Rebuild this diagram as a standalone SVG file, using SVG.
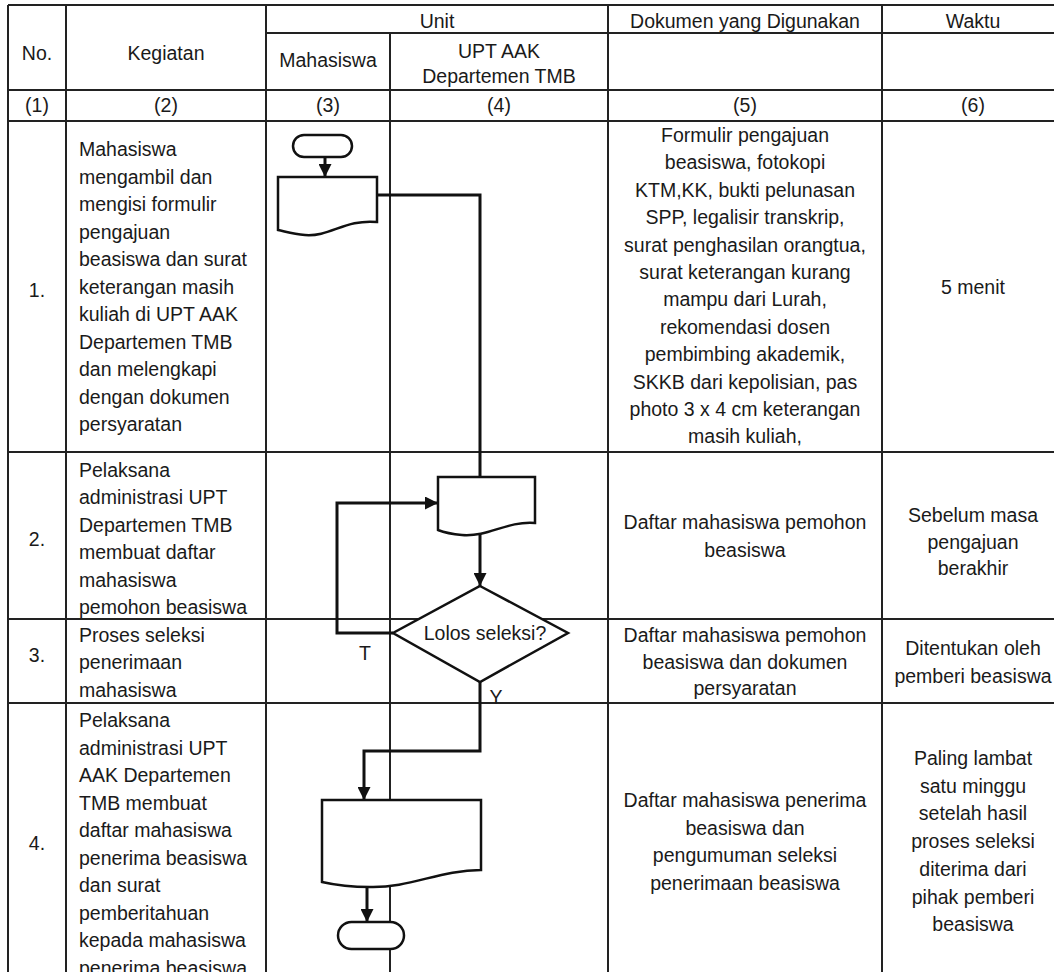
<svg xmlns="http://www.w3.org/2000/svg" width="1054" height="972" viewBox="0 0 1054 972">
<style>
text{font-family:"Liberation Sans",Arial,sans-serif;font-size:19.5px;fill:#1a1a1a}
.c{text-anchor:middle}
.grid line{stroke:#222;stroke-width:2}
.shape{fill:#fff;stroke:#111;stroke-width:2.5}
.conn path{fill:none;stroke:#111;stroke-width:3}
</style>
<defs>
<marker id="arr" viewBox="0 0 10 10" refX="10" refY="5" markerWidth="15" markerHeight="13" markerUnits="userSpaceOnUse" orient="auto">
<path d="M0,0 L10,5 L0,10 z" fill="#111"/>
</marker>
</defs>
<rect width="1054" height="972" fill="#fff"/>
<g class="grid" id="table">
<line x1="8" y1="5" x2="1054" y2="5"/>
<line x1="266" y1="33" x2="1054" y2="33"/>
<line x1="8" y1="90" x2="1054" y2="90"/>
<line x1="8" y1="121" x2="1054" y2="121"/>
<line x1="8" y1="452" x2="1054" y2="452"/>
<line x1="8" y1="619" x2="1054" y2="619"/>
<line x1="8" y1="703" x2="1054" y2="703"/>
<line x1="8" y1="5" x2="8" y2="972"/>
<line x1="66" y1="5" x2="66" y2="972"/>
<line x1="266" y1="5" x2="266" y2="972"/>
<line x1="390" y1="33" x2="390" y2="972"/>
<line x1="608" y1="5" x2="608" y2="972"/>
<line x1="882" y1="5" x2="882" y2="972"/>
</g>
<g id="header">
<text class="c" x="37" y="60">No.</text>
<text class="c" x="166" y="60">Kegiatan</text>
<text class="c" x="437" y="28">Unit</text>
<text class="c" x="745" y="28">Dokumen yang Digunakan</text>
<text class="c" x="973" y="28">Waktu</text>
<text class="c" x="328" y="67">Mahasiswa</text>
<text class="c" x="499" y="58">UPT AAK</text>
<text class="c" x="499" y="83">Departemen TMB</text>
<text class="c" x="37" y="112">(1)</text>
<text class="c" x="166" y="112">(2)</text>
<text class="c" x="328" y="112">(3)</text>
<text class="c" x="499" y="112">(4)</text>
<text class="c" x="745" y="112">(5)</text>
<text class="c" x="973" y="112">(6)</text>
</g>
<g id="row1">
<text class="c" x="37" y="297">1.</text>
<text x="79" y="156"><tspan x="79">Mahasiswa</tspan><tspan x="79" dy="27.5">mengambil dan</tspan><tspan x="79" dy="27.5">mengisi formulir</tspan><tspan x="79" dy="27.5">pengajuan</tspan><tspan x="79" dy="27.5">beasiswa dan surat</tspan><tspan x="79" dy="27.5">keterangan masih</tspan><tspan x="79" dy="27.5">kuliah di UPT AAK</tspan><tspan x="79" dy="27.5">Departemen TMB</tspan><tspan x="79" dy="27.5">dan melengkapi</tspan><tspan x="79" dy="27.5">dengan dokumen</tspan><tspan x="79" dy="27.5">persyaratan</tspan></text>
<text class="c" x="745" y="142"><tspan x="745">Formulir pengajuan</tspan><tspan x="745" dy="27.4">beasiswa, fotokopi</tspan><tspan x="745" dy="27.4">KTM,KK, bukti pelunasan</tspan><tspan x="745" dy="27.4">SPP, legalisir transkrip,</tspan><tspan x="745" dy="27.4">surat penghasilan orangtua,</tspan><tspan x="745" dy="27.4">surat keterangan kurang</tspan><tspan x="745" dy="27.4">mampu dari Lurah,</tspan><tspan x="745" dy="27.4">rekomendasi dosen</tspan><tspan x="745" dy="27.4">pembimbing akademik,</tspan><tspan x="745" dy="27.4">SKKB dari kepolisian, pas</tspan><tspan x="745" dy="27.4">photo 3 x 4 cm keterangan</tspan><tspan x="745" dy="27.4">masih kuliah,</tspan></text>
<text class="c" x="973" y="294">5 menit</text>
</g>
<g id="row2">
<text class="c" x="37" y="546">2.</text>
<text x="79" y="477"><tspan x="79">Pelaksana</tspan><tspan x="79" dy="27.4">administrasi UPT</tspan><tspan x="79" dy="27.4">Departemen TMB</tspan><tspan x="79" dy="27.4">membuat daftar</tspan><tspan x="79" dy="27.4">mahasiswa</tspan><tspan x="79" dy="27.4">pemohon beasiswa</tspan></text>
<text class="c" x="745" y="529"><tspan x="745">Daftar mahasiswa pemohon</tspan><tspan x="745" dy="27.5">beasiswa</tspan></text>
<text class="c" x="973" y="522"><tspan x="973">Sebelum masa</tspan><tspan x="973" dy="26.5">pengajuan</tspan><tspan x="973" dy="26.5">berakhir</tspan></text>
</g>
<g id="row3">
<text class="c" x="37" y="662">3.</text>
<text x="79" y="642"><tspan x="79">Proses seleksi</tspan><tspan x="79" dy="27.4">penerimaan</tspan><tspan x="79" dy="27.4">mahasiswa</tspan></text>
<text class="c" x="745" y="642"><tspan x="745">Daftar mahasiswa pemohon</tspan><tspan x="745" dy="26.5">beasiswa dan dokumen</tspan><tspan x="745" dy="26.5">persyaratan</tspan></text>
<text class="c" x="973" y="655"><tspan x="973">Ditentukan oleh</tspan><tspan x="973" dy="28">pemberi beasiswa</tspan></text>
</g>
<g id="row4">
<text class="c" x="37" y="850">4.</text>
<text x="79" y="727"><tspan x="79">Pelaksana</tspan><tspan x="79" dy="27.5">administrasi UPT</tspan><tspan x="79" dy="27.5">AAK Departemen</tspan><tspan x="79" dy="27.5">TMB membuat</tspan><tspan x="79" dy="27.5">daftar mahasiswa</tspan><tspan x="79" dy="27.5">penerima beasiswa</tspan><tspan x="79" dy="27.5">dan surat</tspan><tspan x="79" dy="27.5">pemberitahuan</tspan><tspan x="79" dy="27.5">kepada mahasiswa</tspan><tspan x="79" dy="27.5">penerima beasiswa</tspan></text>
<text class="c" x="745" y="807"><tspan x="745">Daftar mahasiswa penerima</tspan><tspan x="745" dy="27.5">beasiswa dan</tspan><tspan x="745" dy="27.5">pengumuman seleksi</tspan><tspan x="745" dy="27.5">penerimaan beasiswa</tspan></text>
<text class="c" x="973" y="765"><tspan x="973">Paling lambat</tspan><tspan x="973" dy="27.7">satu minggu</tspan><tspan x="973" dy="27.7">setelah hasil</tspan><tspan x="973" dy="27.7">proses seleksi</tspan><tspan x="973" dy="27.7">diterima dari</tspan><tspan x="973" dy="27.7">pihak pemberi</tspan><tspan x="973" dy="27.7">beasiswa</tspan></text>
</g>
<g class="conn" id="connectors">
<path d="M325,157 V177" marker-end="url(#arr)"/>
<path d="M377,195 H480 V477"/>
<path d="M480,534 V586" marker-end="url(#arr)"/>
<path d="M393,633 H337 V503 H438" marker-end="url(#arr)"/>
<path d="M480,682 V751 H364 V800" marker-end="url(#arr)"/>
<path d="M367,886 V922" marker-end="url(#arr)"/>
</g>
<g id="start">
<rect class="shape" x="293" y="135" width="59" height="22" rx="11"/>
</g>
<g id="doc1">
<path class="shape" d="M278,177 H377 V222 C345,219 330,237 305,235 C292,234 284,231 278,230 Z"/>
</g>
<g id="doc2">
<path class="shape" d="M438,477 H535 V523 C505,521 490,537 462,535 C450,534 443,532 438,530 Z"/>
</g>
<g id="decision">
<path class="shape" d="M480,586 L568,633 L480,682 L393,633 Z"/>
<text class="c" x="485" y="640">Lolos seleksi?</text>
</g>
<g id="labels">
<text class="c" x="365" y="660">T</text>
<text class="c" x="496" y="704">Y</text>
</g>
<g id="doc3">
<path class="shape" d="M322,800 H481 V870 C440,870 410,888 370,887 C350,887 335,885 322,882 Z"/>
</g>
<g id="end">
<rect class="shape" x="338" y="922" width="66" height="27" rx="13.5"/>
</g>
</svg>
